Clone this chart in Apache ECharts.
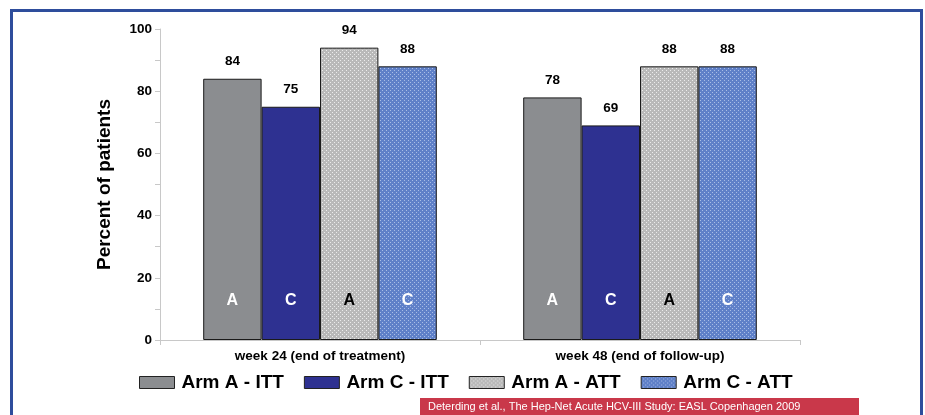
<!DOCTYPE html>
<html><head><meta charset="utf-8">
<script src="https://cdn.jsdelivr.net/npm/echarts@6/dist/echarts.min.js"></script>
<style>
html,body{margin:0;padding:0;background:#fff;}
#frame{position:absolute;left:10px;top:9px;width:907px;height:420px;border:3px solid #2e4d9c;box-sizing:content-box;}
#c{position:absolute;left:0;top:0;width:925px;height:415px;}
</style></head>
<body>
<div id="frame"></div>
<div id="c"></div>
<script>
var categories = ['week 24 (end of treatment)', 'week 48 (end of follow-up)'];
var seriesNames = ['Arm A - ITT', 'Arm C - ITT', 'Arm A - ATT', 'Arm C - ATT'];
var armA_ITT = [84, 78];
var armC_ITT = [75, 69];
var armA_ATT = [94, 88];
var armC_ATT = [88, 88];
var letters = ['A', 'C', 'A', 'C'];
var yTicks = [0, 20, 40, 60, 80, 100];
var source = 'Deterding et al., The Hep-Net Acute HCV-III Study: EASL Copenhagen 2009';

function checker(c1, c2) {
  var cv = document.createElement('canvas');
  cv.width = 4; cv.height = 4;
  var g = cv.getContext('2d');
  g.fillStyle = c1; g.fillRect(0, 0, 4, 4);
  g.fillStyle = c2;
  g.fillRect(0, 0, 1, 1); g.fillRect(2, 2, 1, 1);
  return {image: cv, repeat: 'repeat'};
}
var colors = [
  '#8b8d90',
  '#2e3191',
  checker('#b9b9b9', '#ececec'),
  checker('#5f80c8', '#a9bde6')
];
var allData = [armA_ITT, armC_ITT, armA_ATT, armC_ATT];
var letterColors = ['#ffffff', '#ffffff', '#000000', '#ffffff'];
var FONT = 'Liberation Sans, Arial, sans-serif';

var chart = echarts.init(document.getElementById('c'));
var series = [];
var common = {type: 'bar', barGap: '0%', barCategoryGap: '27%'};
for (var i = 0; i < 4; i++) {
  series.push(Object.assign({}, common, {
    name: seriesNames[i],
    xAxisIndex: 0,
    data: allData[i],
    itemStyle: {color: colors[i], borderColor: '#1a1a1a', borderWidth: 1},
    label: {show: true, position: 'top', distance: 10, color: '#000', fontWeight: 'bold', fontSize: 13.5, fontFamily: FONT},
    emphasis: {disabled: true}
  }));
}
for (var j = 0; j < 4; j++) {
  series.push(Object.assign({}, common, {
    name: 'lbl' + j,
    xAxisIndex: 1,
    data: allData[j],
    silent: true,
    itemStyle: {color: 'rgba(0,0,0,0)'},
    label: {show: true, position: 'insideBottom', distance: 31, formatter: letters[j], color: letterColors[j], fontWeight: 'bold', fontSize: 16, fontFamily: FONT},
    z: 5,
    emphasis: {disabled: true}
  }));
}

chart.setOption({
  animation: false,
  grid: {left: 160, right: 125, top: 29, bottom: 75},
  legend: {
    data: seriesNames.map(function (n, k) { return {name: n, itemStyle: {color: colors[k], borderColor: '#222', borderWidth: 1}}; }),
    left: 139, top: 373, padding: 0,
    itemWidth: 35, itemHeight: 12, itemGap: 20,
    icon: 'rect',
    selectedMode: false,
    textStyle: {fontSize: 19, fontWeight: 'bold', color: '#000', fontFamily: FONT, padding: [0, 0, 0, 2]}
  },
  xAxis: [{
    type: 'category', data: categories,
    axisLine: {lineStyle: {color: '#c8c8c8', width: 1}},
    axisTick: {show: true, length: 5, lineStyle: {color: '#c8c8c8'}},
    axisLabel: {color: '#000', fontWeight: 'bold', fontSize: 13.5, margin: 9, fontFamily: FONT}
  }, {
    type: 'category', data: categories, show: false
  }],
  yAxis: {
    type: 'value', min: 0, max: 100, interval: 20,
    name: 'Percent of patients', nameLocation: 'middle', nameGap: 46, nameRotate: 90,
    nameTextStyle: {fontSize: 19, fontWeight: 'bold', color: '#000', fontFamily: FONT},
    axisLine: {show: true, lineStyle: {color: '#c8c8c8'}},
    axisTick: {show: true, length: 5, lineStyle: {color: '#c8c8c8'}},
    minorTick: {show: true, splitNumber: 2, length: 5, lineStyle: {color: '#c8c8c8'}},
    splitLine: {show: false},
    axisLabel: {color: '#000', fontWeight: 'bold', fontSize: 13.5, margin: 8, fontFamily: FONT,
      formatter: function (v) { return yTicks.indexOf(v) >= 0 ? String(v) : ''; }}
  },
  graphic: [{
    type: 'rect', left: 420, top: 398, shape: {width: 439, height: 20}, style: {fill: '#c9384a'}
  }, {
    type: 'text', left: 428, top: 401, style: {text: source, fill: '#ffffff', fontSize: 11, fontFamily: FONT}
  }],
  series: series
});
</script>
</body></html>
